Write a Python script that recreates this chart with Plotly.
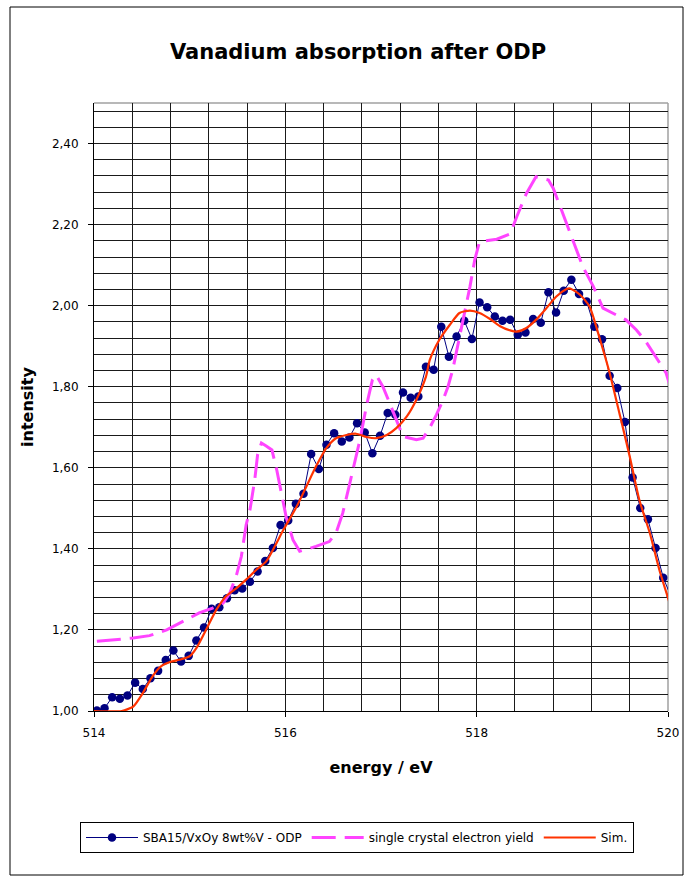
import plotly.graph_objects as go

# SBA15/VxOy 8wt%V after ODP: measured points
odp_energy = [
    514.03, 514.11, 514.19, 514.27, 514.35, 514.43, 514.51, 514.59, 514.67, 514.75,
    514.83, 514.91, 514.99, 515.07, 515.15, 515.23, 515.31, 515.39, 515.47, 515.55,
    515.63, 515.71, 515.79, 515.87, 515.95, 516.03, 516.11, 516.19, 516.27, 516.35,
    516.43, 516.51, 516.59, 516.67, 516.75, 516.83, 516.91, 516.99, 517.07, 517.15,
    517.23, 517.31, 517.39, 517.47, 517.55, 517.63, 517.71, 517.79, 517.87, 517.95,
    518.03, 518.11, 518.19, 518.27, 518.35, 518.43, 518.51, 518.59, 518.67, 518.75,
    518.83, 518.91, 518.99, 519.07, 519.15, 519.23, 519.31, 519.39, 519.47, 519.55,
    519.63, 519.71, 519.79, 519.87, 519.95, 520.03,
]
odp_intensity = [
    1.001, 1.007, 1.034, 1.030, 1.038, 1.070, 1.054, 1.081, 1.099, 1.126,
    1.149, 1.122, 1.136, 1.174, 1.206, 1.252, 1.256, 1.278, 1.298, 1.302,
    1.319, 1.344, 1.370, 1.402, 1.459, 1.470, 1.511, 1.536, 1.634, 1.597,
    1.657, 1.685, 1.665, 1.675, 1.710, 1.687, 1.636, 1.679, 1.735, 1.731,
    1.786, 1.773, 1.776, 1.849, 1.842, 1.948, 1.874, 1.924, 1.963, 1.918,
    2.008, 1.996, 1.973, 1.963, 1.965, 1.928, 1.934, 1.967, 1.958, 2.033,
    1.983, 2.037, 2.064, 2.029, 2.010, 1.948, 1.917, 1.827, 1.797, 1.713,
    1.576, 1.501, 1.473, 1.402, 1.329, 1.283,
]

# single crystal reference, electron yield
xtal_energy = [
    514.03, 514.41, 514.58, 514.76, 514.93, 515.10, 515.24, 515.35, 515.42, 515.49,
    515.54, 515.59, 515.63, 515.68, 515.71, 515.75, 515.80, 515.86, 515.91, 515.96,
    516.01, 516.08, 516.15, 516.32, 516.46, 516.53, 516.60, 516.67, 516.73, 516.78,
    516.85, 516.91, 516.95, 517.02, 517.09, 517.16, 517.23, 517.37, 517.44, 517.51,
    517.58, 517.65, 517.70, 517.75, 517.80, 517.89, 517.93, 517.98, 518.03, 518.21,
    518.35, 518.42, 518.52, 518.62, 518.75, 518.80, 518.90, 519.01, 519.11, 519.22,
    519.32, 519.46, 519.56, 519.67, 519.77, 519.88, 519.98, 520.04,
]
xtal_intensity = [
    1.172, 1.180, 1.186, 1.200, 1.221, 1.242, 1.254, 1.266, 1.291, 1.336,
    1.381, 1.459, 1.496, 1.570, 1.632, 1.661, 1.654, 1.644, 1.595, 1.538,
    1.477, 1.422, 1.394, 1.406, 1.418, 1.439, 1.488, 1.558, 1.620, 1.669,
    1.755, 1.817, 1.829, 1.800, 1.760, 1.718, 1.677, 1.669, 1.673, 1.699,
    1.731, 1.768, 1.800, 1.842, 1.898, 2.006, 2.047, 2.113, 2.158, 2.164,
    2.177, 2.220, 2.277, 2.318, 2.310, 2.290, 2.228, 2.162, 2.096, 2.047,
    1.994, 1.977, 1.965, 1.940, 1.911, 1.871, 1.834, 1.788,
]

# simulated spectrum
sim_energy = [
    514.00, 514.29, 514.41, 514.51, 514.61, 514.70, 514.81, 514.90, 515.00, 515.07,
    515.17, 515.28, 515.38, 515.49, 515.59, 515.70, 515.80, 515.98, 516.12, 516.22,
    516.32, 516.43, 516.53, 516.64, 516.74, 516.85, 516.95, 517.06, 517.16, 517.27,
    517.37, 517.47, 517.51, 517.61, 517.72, 517.82, 517.93, 518.03, 518.14, 518.24,
    518.35, 518.42, 518.52, 518.62, 518.73, 518.83, 518.94, 518.97, 519.08, 519.18,
    519.29, 519.39, 519.50, 519.60, 519.70, 519.81, 519.91, 520.05,
]
sim_intensity = [
    1.000, 1.000, 1.011, 1.044, 1.085, 1.110, 1.122, 1.127, 1.135, 1.155,
    1.200, 1.250, 1.283, 1.303, 1.324, 1.349, 1.369, 1.447, 1.505, 1.554,
    1.603, 1.649, 1.673, 1.681, 1.684, 1.676, 1.673, 1.681, 1.698, 1.727,
    1.768, 1.825, 1.866, 1.916, 1.953, 1.982, 1.988, 1.982, 1.967, 1.950,
    1.939, 1.936, 1.945, 1.965, 1.994, 2.022, 2.041, 2.043, 2.027, 1.998,
    1.916, 1.834, 1.727, 1.628, 1.521, 1.439, 1.348, 1.242,
]

series_names = ["SBA15/VxOy 8wt%V - ODP", "single crystal electron yield", "Sim."]
y_ticks = [1.0, 1.2, 1.4, 1.6, 1.8, 2.0, 2.2, 2.4]
x_ticks = [514, 516, 518, 520]

FONT = "'DejaVu Sans', Arial, sans-serif"
W, H = 695, 883
L, R, T, B = 94, 668, 103, 711  # plot area in pixels

fig = go.Figure()
fig.add_trace(go.Scatter(
    x=odp_energy, y=odp_intensity, name=series_names[0], mode="lines+markers",
    line=dict(color="#000080", width=1),
    marker=dict(symbol="circle", size=8.5, color="#000080"),
    cliponaxis=True,
))
fig.add_trace(go.Scatter(
    x=xtal_energy, y=xtal_intensity, name=series_names[1], mode="lines",
    line=dict(color="#FF44FF", width=3, dash="24px,9px"),
))
fig.add_trace(go.Scatter(
    x=sim_energy, y=sim_intensity, name=series_names[2], mode="lines",
    line=dict(color="#FF3300", width=2.2, shape="spline", smoothing=0.6),
))

grid = "#1a1a1a"
fig.update_xaxes(
    range=[514, 520], tickvals=x_ticks, ticks="outside", ticklen=5, tickcolor="black",
    ticklabelstandoff=6,
    showline=True, linecolor="black", linewidth=1,
    showgrid=True, gridcolor=grid, gridwidth=1,
    minor=dict(dtick=0.4, tick0=514, showgrid=True, gridcolor=grid, gridwidth=1),
    zeroline=False, tickfont=dict(family=FONT, size=12, color="black"),
    title=dict(text="<b>energy / eV</b>", font=dict(family=FONT, size=16, color="black"),
               standoff=22),
)
fig.update_yaxes(
    range=[1.0, 2.5], tickvals=y_ticks, tickformat=".2f", ticks="outside", ticklen=5,
    ticklabelstandoff=7,
    tickcolor="black", showline=True, linecolor="black", linewidth=1,
    showgrid=True, gridcolor=grid, gridwidth=1,
    minor=dict(dtick=0.04, tick0=1.0, showgrid=True, gridcolor=grid, gridwidth=1),
    zeroline=False, tickfont=dict(family=FONT, size=12, color="black"),
    title=dict(text="<b>intensity</b>", font=dict(family=FONT, size=16, color="black"),
               standoff=14),
)

pw, ph = R - L, B - T


def px_x(p):
    return (p - L) / pw


def px_y(p):
    return (B - p) / ph


shapes = [
    # grey plot-area border on the top and right edges
    dict(type="line", xref="paper", yref="paper", x0=0, x1=1, y0=1, y1=1,
         line=dict(color="#a0a0a0", width=1.5), layer="between"),
    dict(type="line", xref="paper", yref="paper", x0=1, x1=1, y0=0, y1=1,
         line=dict(color="#a0a0a0", width=1.5), layer="between"),
    # chart frame
    dict(type="rect", xref="paper", yref="paper",
         x0=px_x(10), x1=px_x(683), y0=px_y(875), y1=px_y(7),
         line=dict(color="black", width=1), fillcolor="rgba(0,0,0,0)", layer="above"),
]

fig.update_layout(
    width=W, height=H,
    margin=dict(l=L, r=W - R, t=T, b=H - B, pad=0),
    paper_bgcolor="white", plot_bgcolor="white",
    separators=",.",
    shapes=shapes,
    title=dict(text="<b>Vanadium absorption after ODP</b>", xref="container", yref="container",
               x=358 / W, y=1 - 52 / H, xanchor="center", yanchor="middle",
               font=dict(family=FONT, size=21, color="black")),
    legend=dict(orientation="h", xref="container", yref="container",
                x=80 / W, y=1 - 822 / H, xanchor="left", yanchor="top",
                bordercolor="black", borderwidth=1, bgcolor="white",
                font=dict(family=FONT, size=12, color="black"),
                itemwidth=52, tracegroupgap=0),
    showlegend=True,
)

fig.write_html("out.html")
